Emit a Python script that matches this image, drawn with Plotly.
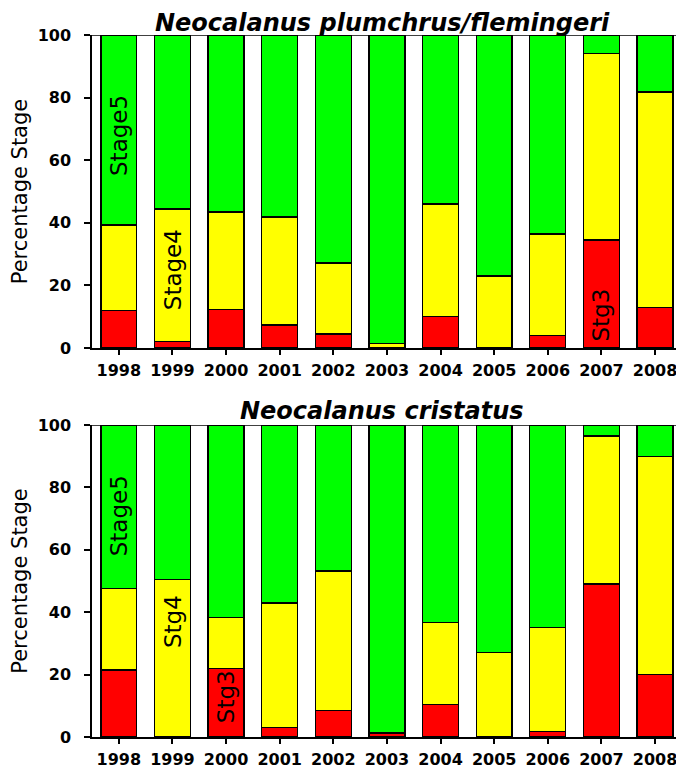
import plotly.graph_objects as go
from plotly.subplots import make_subplots

years = ["1998", "1999", "2000", "2001", "2002", "2003", "2004", "2005", "2006", "2007", "2008"]

# Neocalanus plumchrus/flemingeri (percent)
pf_stage3 = [12.0, 2.0, 12.3, 7.4, 4.5, 0.0, 10.0, 0.0, 3.9, 34.5, 12.9]
pf_stage4 = [27.3, 42.4, 31.2, 34.5, 22.7, 1.5, 36.0, 23.0, 32.5, 59.5, 68.9]
pf_stage5 = [60.7, 55.6, 56.5, 58.1, 72.8, 98.5, 54.0, 77.0, 63.6, 6.0, 18.2]

# Neocalanus cristatus (percent)
cr_stage3 = [21.5, 0.0, 22.0, 3.0, 8.5, 1.2, 10.5, 0.0, 1.8, 49.0, 20.0]
cr_stage4 = [26.2, 50.5, 16.2, 40.0, 44.7, 0.3, 26.2, 27.0, 33.2, 47.5, 70.0]
cr_stage5 = [52.3, 49.5, 61.8, 57.0, 46.8, 98.5, 63.3, 73.0, 65.0, 3.5, 10.0]

titles = ["Neocalanus plumchrus/flemingeri", "Neocalanus cristatus"]
yticks = [0, 20, 40, 60, 80, 100]

FONT = "DejaVu Sans, Liberation Sans, Arial, sans-serif"
colors = {"s3": "#ff0000", "s4": "#ffff00", "s5": "#00ff00"}

fig = make_subplots(rows=2, cols=1)
xs = list(range(len(years)))

for row, (s3, s4, s5) in enumerate([(pf_stage3, pf_stage4, pf_stage5),
                                    (cr_stage3, cr_stage4, cr_stage5)], start=1):
    for vals, key in [(s3, "s3"), (s4, "s4"), (s5, "s5")]:
        fig.add_trace(go.Bar(x=xs, y=vals, width=0.67,
                             marker=dict(color=colors[key], line=dict(color="black", width=1.3)),
                             showlegend=False, hoverinfo="skip"), row=row, col=1)

# page has an 8px body margin, so the figure is 8px smaller than the window
fig.update_layout(barmode="stack", width=676, height=762,
                  margin=dict(l=84, r=0, t=27, b=33),
                  plot_bgcolor="white", paper_bgcolor="white",
                  font=dict(family=FONT, color="black"))

axis_x = dict(range=[-0.5, 10.54], tickmode="array", tickvals=xs, ticktext=years,
              ticks="outside", ticklen=5, tickwidth=1.5, tickcolor="black",
              showline=True, linecolor="black", linewidth=1.5, mirror=False,
              showgrid=False, zeroline=False, ticklabelstandoff=2,
              tickfont=dict(family=FONT, size=16, color="black", weight="bold"))
axis_y = dict(range=[0, 100], tickvals=yticks, ticks="outside", ticklen=6,
              tickwidth=1.5, tickcolor="black", showline=True, linecolor="black",
              linewidth=1.5, showgrid=False, zeroline=False, ticklabelstandoff=10,
              tickfont=dict(family=FONT, size=16, color="black", weight="bold"),
              title=dict(text="Percentage Stage", font=dict(family=FONT, size=21, color="black"),
                         standoff=6))

fig.update_xaxes(**axis_x)
fig.update_yaxes(**axis_y)
fig.update_layout(yaxis=dict(domain=[0.5541, 1.0]), yaxis2=dict(domain=[0.0, 0.4444]),
                  xaxis=dict(anchor="y"), xaxis2=dict(anchor="y2"))

# top border lines (at y = 100)
for yref in ["y", "y2"]:
    fig.add_shape(type="line", xref="paper", yref=yref, x0=0, x1=1, y0=100, y1=100,
                  line=dict(color="black", width=1.5))

# Titles
fig.add_annotation(text="<b><i>" + titles[0] + "</i></b>", xref="paper", yref="paper",
                   x=0.49, y=1.0, yshift=-3, yanchor="bottom", showarrow=False, borderpad=0,
                   font=dict(family=FONT, size=24, color="black"))
fig.add_annotation(text="<b><i>" + titles[1] + "</i></b>", xref="paper", yref="paper",
                   x=0.49, y=0.4444, yshift=-1, yanchor="bottom", showarrow=False, borderpad=0,
                   font=dict(family=FONT, size=24, color="black"))

# Stage labels inside bars
labels = [("Stage5", 0, 68, "x", "y"), ("Stage4", 1, 25, "x", "y"), ("Stg3", 9, 10.5, "x", "y"),
          ("Stage5", 0, 71, "x2", "y2"), ("Stg4", 1, 37, "x2", "y2"), ("Stg3", 2, 12.8, "x2", "y2")]
for txt, xi, yv, xr, yr in labels:
    fig.add_annotation(text=txt, x=xi, y=yv, xref=xr, yref=yr, textangle=-90,
                       showarrow=False, font=dict(family=FONT, size=23, color="black"))

fig.write_html("out.html")
